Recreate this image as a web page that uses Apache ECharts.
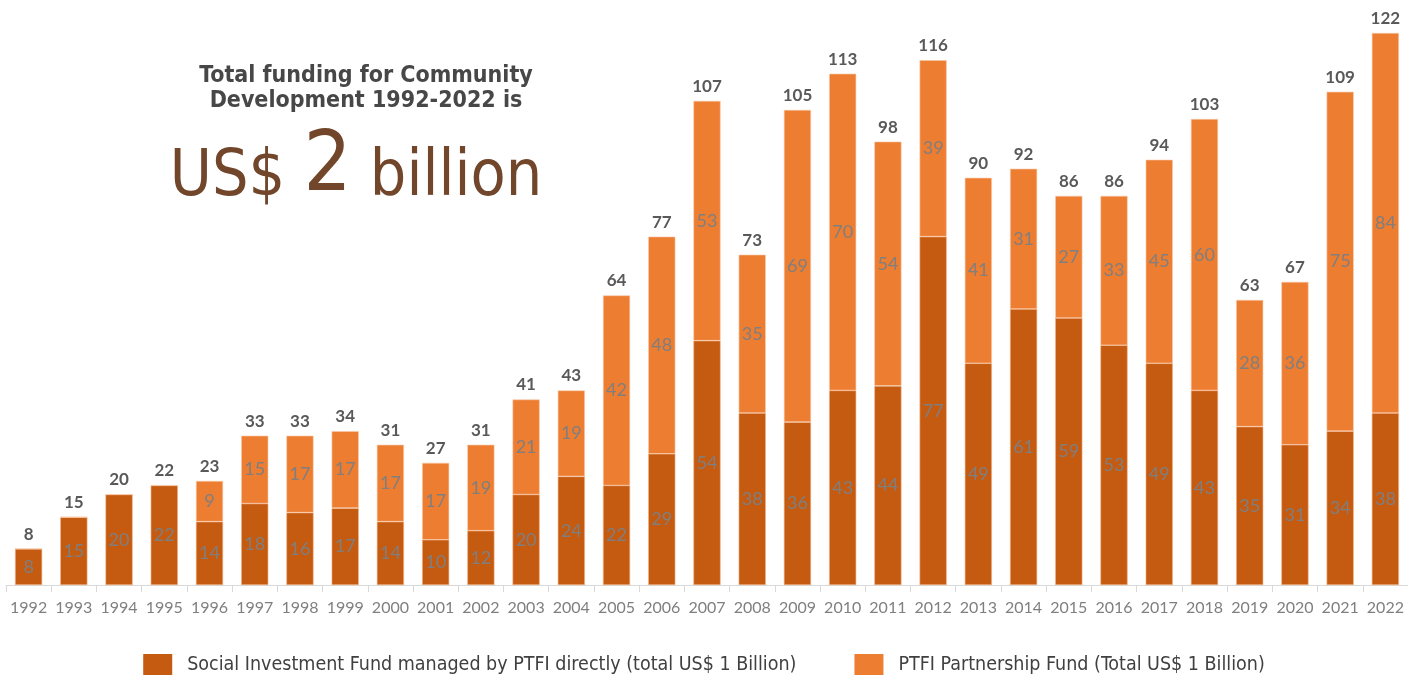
<!DOCTYPE html>
<html>
<head>
<meta charset="utf-8">
<title>Community Development Funding</title>
<script src="https://cdn.jsdelivr.net/npm/echarts@6/dist/echarts.min.js"></script>
<style>
  html, body { margin: 0; padding: 0; background: #fff; }
  #chart { width: 1408px; height: 676px; }
</style>
</head>
<body>
<div id="chart"></div>
<script>
// 年份
const years = ['1992', '1993', '1994', '1995', '1996', '1997', '1998', '1999', '2000', '2001',
  '2002', '2003', '2004', '2005', '2006', '2007', '2008', '2009', '2010', '2011', '2012',
  '2013', '2014', '2015', '2016', '2017', '2018', '2019', '2020', '2021', '2022']
// 直接管理 (US$ million)
const directFund = [8, 15, 20, 22, 14, 18, 16, 17, 14, 10, 12, 20, 24, 22, 29, 54, 38, 36, 43, 44, 77,
  49, 61, 59, 53, 49, 43, 35, 31, 34, 38]
// 合作基金
const partnershipFund = [0, 0, 0, 0, 9, 15, 17, 17, 17, 17, 19, 21, 19, 42, 48, 53, 35, 69, 70, 54, 39,
  41, 31, 27, 33, 45, 60, 28, 36, 75, 84]
// 合计
const totals = [8, 15, 20, 22, 23, 33, 33, 34, 31, 27, 31, 41, 43, 64, 77, 107, 73, 105, 113, 98, 116,
  90, 92, 86, 86, 94, 103, 63, 67, 109, 122]

const seriesNames = [
  'Social Investment Fund managed by PTFI directly (total US$ 1 Billion)',
  'PTFI Partnership Fund (Total US$ 1 Billion)'
]

const labelFont = 'Lato, "Open Sans", sans-serif'
const titleFont = '"DejaVu Sans Condensed", "DejaVu Sans", sans-serif'

const insideLabel = {
  show: true,
  position: 'inside',
  color: '#7f7f7f',
  fontSize: 18,
  fontFamily: labelFont,
  formatter: (p) => (p.value ? p.value : '')
}

const options = {
  backgroundColor: '#ffffff',
  animation: false,
  color: ['#c55a11', '#ed7d31'],
  // 标题文字
  graphic: [
    {
      type: 'text',
      x: 366,
      y: 64,
      style: {
        text: 'Total funding for Community\nDevelopment 1992-2022 is',
        textAlign: 'center',
        textVerticalAlign: 'top',
        fill: '#474747',
        font: 'bold 23px ' + titleFont,
        lineHeight: 25
      }
    },
    {
      type: 'text',
      x: 356,
      y: 210,
      style: {
        text: '{a|US$ }{b|2}{a| billion}',
        textAlign: 'center',
        textVerticalAlign: 'bottom',
        rich: {
          a: { fontSize: 64, fontFamily: titleFont, fill: '#71462a', color: '#71462a', verticalAlign: 'bottom' },
          b: { fontSize: 84, fontFamily: titleFont, fill: '#71462a', color: '#71462a', verticalAlign: 'bottom' }
        }
      }
    }
  ],
  grid: { left: 6, right: 0, top: 33, bottom: 91 },
  // 图例
  legend: {
    data: seriesNames,
    bottom: -4,
    left: 'center',
    itemWidth: 29,
    itemHeight: 21,
    itemGap: 58,
    icon: 'rect',
    itemStyle: { borderWidth: 0 },
    textStyle: { color: '#404040', fontSize: 19.5, fontFamily: titleFont, padding: [0, 0, 0, 10] }
  },
  // x轴
  xAxis: {
    type: 'category',
    data: years,
    axisLine: { lineStyle: { color: '#d9d9d9' } },
    axisTick: { show: true, length: 7, lineStyle: { color: '#d9d9d9' } },
    axisLabel: { interval: 0, color: '#7f7f7f', fontSize: 16, fontFamily: labelFont, margin: 15 }
  },
  // y轴
  yAxis: {
    type: 'value',
    min: 0,
    max: 122,
    show: false,
    splitLine: { show: false }
  },
  series: [
    {
      name: seriesNames[0],
      type: 'bar',
      stack: 'fund',
      barWidth: '60%',
      data: directFund,
      itemStyle: { borderColor: '#f4b183', borderWidth: 0.6 },
      label: insideLabel
    },
    {
      name: seriesNames[1],
      type: 'bar',
      stack: 'fund',
      data: partnershipFund,
      itemStyle: { borderColor: '#f8cbad', borderWidth: 0.6 },
      label: insideLabel
    },
    {
      name: 'Total',
      type: 'bar',
      barGap: '-100%',
      barWidth: '60%',
      data: totals,
      z: 1,
      silent: true,
      itemStyle: { color: 'rgba(0,0,0,0)' },
      label: {
        show: true,
        position: 'top',
        distance: 6,
        color: '#595959',
        fontSize: 17,
        fontWeight: 'bold',
        fontFamily: labelFont
      }
    }
  ]
}

const init = () => {
  const chartInstance = echarts.init(document.getElementById('chart'), null, { renderer: 'canvas' })
  chartInstance.setOption(options)
}

init()
</script>
</body>
</html>
